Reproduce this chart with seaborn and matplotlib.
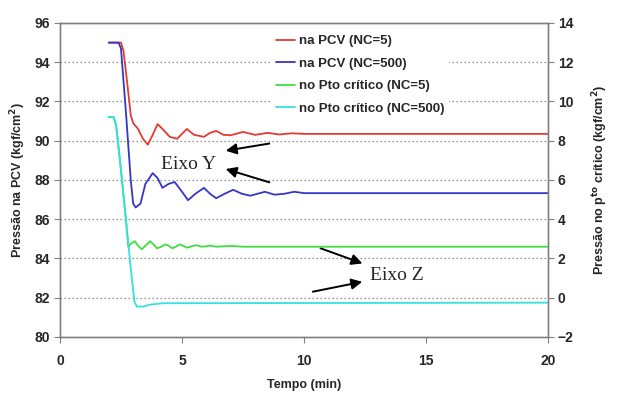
import matplotlib
matplotlib.use("Agg")
import matplotlib.pyplot as plt
import pandas as pd
import seaborn as sns

# series: time in min, pressure in kgf/cm2
t_red = [2.0, 2.5, 2.6, 2.75, 2.9, 3.0, 3.2, 3.4, 3.6, 3.8, 4.0, 4.2, 4.5, 4.8, 5.0,
         5.2, 5.5, 5.9, 6.15, 6.4, 6.7, 7.0, 7.5, 8.0, 8.5, 9.0, 9.5, 10.0, 20.0]
pcv_nc5 = [95.0, 95.0, 94.6, 93.0, 91.3, 90.9, 90.6, 90.1, 89.8, 90.3, 90.85, 90.6, 90.2, 90.1, 90.35,
           90.6, 90.3, 90.2, 90.4, 90.5, 90.3, 90.28, 90.45, 90.3, 90.4, 90.32, 90.38, 90.35, 90.35]

t_blue = [2.0, 2.4, 2.5, 2.7, 2.9, 3.0, 3.1, 3.3, 3.5, 3.8, 4.0, 4.2, 4.45, 4.7, 5.0, 5.25,
          5.55, 5.9, 6.15, 6.4, 6.75, 7.1, 7.45, 7.8, 8.1, 8.4, 8.8, 9.2, 9.6, 10.0, 20.0]
pcv_nc500 = [95.0, 95.0, 94.7, 91.5, 88.0, 86.8, 86.6, 86.8, 87.8, 88.35, 88.1, 87.6, 87.8, 87.9, 87.4, 86.97,
             87.3, 87.6, 87.3, 87.07, 87.3, 87.5, 87.3, 87.2, 87.3, 87.4, 87.25, 87.3, 87.4, 87.33, 87.33]

t_green = [2.0, 2.2, 2.3, 2.5, 2.7, 2.8, 2.9, 3.07, 3.2, 3.35, 3.5, 3.7, 3.85, 3.97, 4.15, 4.3,
           4.45, 4.6, 4.75, 4.9, 5.05, 5.2, 5.4, 5.6, 5.8, 6.0, 6.15, 6.4, 7.0, 7.5, 20.0]
pto_nc5 = [9.2, 9.2, 8.8, 6.5, 4.0, 2.6, 2.75, 2.88, 2.65, 2.47, 2.65, 2.88, 2.7, 2.52, 2.6, 2.72,
           2.65, 2.52, 2.6, 2.72, 2.65, 2.55, 2.62, 2.68, 2.6, 2.62, 2.66, 2.6, 2.64, 2.6, 2.6]

t_cyan = [2.0, 2.2, 2.3, 2.5, 2.7, 2.9, 3.05, 3.15, 3.4, 3.7, 4.2, 20.0]
pto_nc500 = [9.2, 9.2, 8.8, 6.5, 4.0, 1.5, -0.2, -0.45, -0.45, -0.35, -0.28, -0.25]

labels = ["na PCV (NC=5)", "na PCV (NC=500)", "no Pto crítico (NC=5)", "no Pto crítico (NC=500)"]
colors = ["#e53a34", "#3535c8", "#3fde3f", "#35e0e0"]

sns.set_style("ticks")
plt.rcParams["font.family"] = ["Liberation Sans", "DejaVu Sans"]
plt.rcParams["font.weight"] = "bold"

fig = plt.figure(figsize=(6.19, 3.93), dpi=100)
ax = fig.add_axes([0.0969, 0.1425, 0.7884, 0.799])
ax2 = ax.twinx()

left = pd.DataFrame({"t": t_red + t_blue, "p": pcv_nc5 + pcv_nc500,
                     "serie": [labels[0]] * len(t_red) + [labels[1]] * len(t_blue)})
right = pd.DataFrame({"t": t_green + t_cyan, "p": pto_nc5 + pto_nc500,
                      "serie": [labels[2]] * len(t_green) + [labels[3]] * len(t_cyan)})

sns.lineplot(data=left, x="t", y="p", hue="serie", palette=colors[:2], lw=1.3,
             ax=ax, legend=False, estimator=None, sort=False)
sns.lineplot(data=right, x="t", y="p", hue="serie", palette=colors[2:], lw=1.3,
             ax=ax2, legend=False, estimator=None, sort=False)

ax.set_xlim(0, 20)
ax.set_ylim(80, 96)
ax2.set_ylim(-2, 14)
ax.set_xticks([0, 5, 10, 15, 20])
ax.set_yticks(range(80, 97, 2))
ax2.set_yticks(range(-2, 15, 2))

for a in (ax, ax2):
    for s in a.spines.values():
        s.set_color("#808080")
        s.set_linewidth(1.0)
    a.tick_params(labelsize=10, length=4, color="#808080", width=0.8, pad=3)
    for lab in a.get_xticklabels() + a.get_yticklabels():
        lab.set_fontweight("bold")
ax.tick_params(axis="x", pad=8)

for y in range(82, 96, 2):
    ax.axhline(y, color="#8c8c8c", lw=0.9, ls=(0, (1.2, 2)), zorder=0)

ax.set_xlabel("Tempo (min)", fontsize=9, fontweight="bold", labelpad=8)
ax.set_ylabel("Pressão na PCV (kgf/cm$^\\mathbf{2}$)", fontsize=9, fontweight="bold", labelpad=5)
ax2.set_ylabel("Pressão no p$^{\\mathbf{to}}$ crítico (kgf/cm$^\\mathbf{2}$)", fontsize=9,
               fontweight="bold", labelpad=12)

handles = [plt.Line2D([], [], color=c, lw=1.3) for c in colors]
leg = ax2.legend(handles, labels, loc="upper left", bbox_to_anchor=(0.42, 0.995),
                 frameon=True, fancybox=False, edgecolor="none", facecolor="white",
                 framealpha=1, handlelength=1.5, handletextpad=0.3,
                 labelspacing=0.78, borderpad=0.3, prop={"weight": "bold", "size": 9.5})
for txt in leg.get_texts():
    txt.set_fontweight("bold")

arrow = dict(arrowstyle="-|>", color="black", lw=1.4, mutation_scale=16)
ax.text(5.29, 88.8, "Eixo Y", family="Liberation Serif", fontweight="normal",
        fontsize=14, ha="center", va="center")
ax.annotate("", xy=(6.68, 89.47), xytext=(8.69, 89.88), arrowprops=arrow)
ax.annotate("", xy=(6.68, 88.6), xytext=(8.69, 87.84), arrowprops=arrow)
ax.text(13.8, 83.14, "Eixo Z", family="Liberation Serif", fontweight="normal",
        fontsize=14, ha="center", va="center")
ax.annotate("", xy=(12.5, 83.70), xytext=(10.57, 84.57), arrowprops=arrow)
ax.annotate("", xy=(12.5, 82.84), xytext=(10.25, 82.28), arrowprops=arrow)

fig.savefig("out.png", dpi=100)
